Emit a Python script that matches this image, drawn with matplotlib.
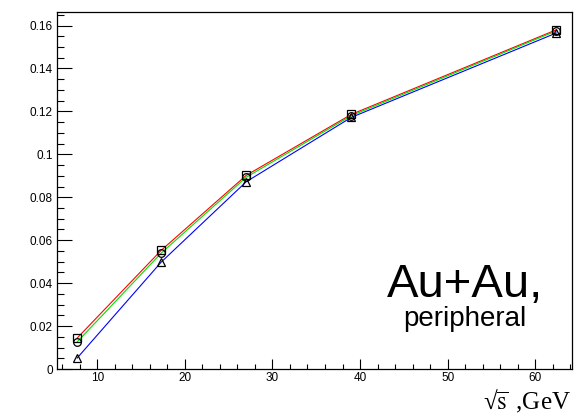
import matplotlib
matplotlib.use("Agg")
import matplotlib.pyplot as plt
from matplotlib.ticker import MultipleLocator

energies = [7.7, 17.3, 27.0, 39.0, 62.4]
series_red = [0.0144, 0.0553, 0.0902, 0.1186, 0.1580]
series_green = [0.0126, 0.0540, 0.0893, 0.1180, 0.1575]
series_blue = [0.0051, 0.0498, 0.0872, 0.1172, 0.1565]

x_ticks = [10, 20, 30, 40, 50, 60]
y_ticks = [0, 0.02, 0.04, 0.06, 0.08, 0.1, 0.12, 0.14, 0.16]
y_tick_labels = ["0", "0.02", "0.04", "0.06", "0.08", "0.1", "0.12", "0.14", "0.16"]

plt.rcParams['font.family'] = ['Liberation Sans', 'DejaVu Sans']
plt.rcParams['mathtext.fontset'] = 'stix'

fig = plt.figure(figsize=(5.75, 4.17), dpi=100)
ax = fig.add_axes([57/575, 1-369/417, (572-57)/575, (369-12)/417])

series = [(series_red, 'red', 's'), (series_green, '#00e000', 'o'), (series_blue, 'blue', '^')]
for vals, col, mk in series:
    ax.plot(energies, vals, color=col, lw=0.8, zorder=2)
for vals, col, mk in series:
    ax.plot(energies, vals, ls='none', marker=mk, ms=6 if mk != 'o' else 5.5,
            mfc='none', mec='black', mew=0.9, zorder=3)

ax.set_xlim(5.4, 64.2)
ax.set_ylim(0, 0.1663)
ax.set_xticks(x_ticks)
ax.set_xticklabels([str(t) for t in x_ticks])
ax.set_yticks(y_ticks)
ax.set_yticklabels(y_tick_labels)
ax.xaxis.set_minor_locator(MultipleLocator(2))
ax.yaxis.set_minor_locator(MultipleLocator(0.005))

ax.tick_params(axis='x', which='major', direction='in', length=7.5, width=0.8, labelsize=8.5, pad=2.5)
ax.tick_params(axis='x', which='minor', direction='in', length=3.8, width=0.8)
ax.tick_params(axis='y', which='major', direction='in', length=10.5, width=0.8, labelsize=8.5, pad=3)
ax.tick_params(axis='y', which='minor', direction='in', length=5.3, width=0.8)
for s in ax.spines.values():
    s.set_linewidth(0.9)

ax.text(0.792, 0.2017, "Au+Au,", transform=ax.transAxes, fontsize=34,
        ha='center', va='baseline')
ax.text(0.792, 0.12, "peripheral", transform=ax.transAxes, fontsize=20,
        ha='center', va='baseline')

fig.text(571/575, 1-409/417, "\u221a" + r"$\overline{\mathrm{s}}\,$" + " ,GeV", fontsize=18,
         ha='right', va='baseline', family=['Liberation Serif', 'DejaVu Serif'])

fig.savefig("out.png", dpi=100)
